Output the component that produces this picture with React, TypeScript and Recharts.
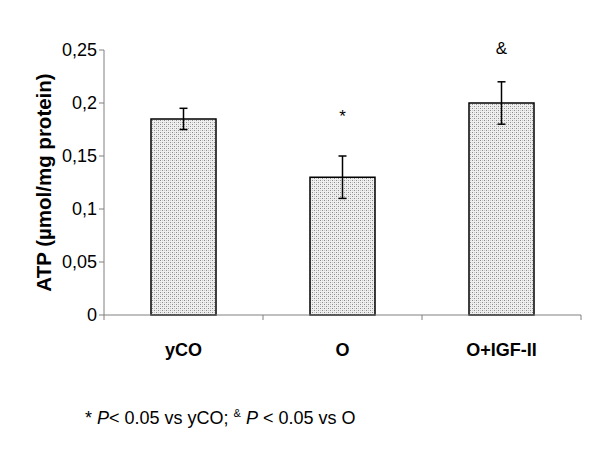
import { ComposedChart, Bar, Line, XAxis, YAxis, ErrorBar, LabelList } from "recharts";

const groups = ["yCO", "O", "O+IGF-II"];
const atp = [0.185, 0.13, 0.2];
const sem = [0.01, 0.02, 0.02];
const sigMark = ["", "*", "&"];
const sigLevel = [null, 0.182, 0.246];
const yTicks = [0, 0.05, 0.1, 0.15, 0.2, 0.25];

const data = groups.map((g, i) => ({
  group: g,
  atp: atp[i],
  sem: sem[i],
  mark: sigMark[i],
  level: sigLevel[i],
}));

const FONT = "'Liberation Sans', Arial, sans-serif";

function GroupTick(props: any) {
  const { x, y, payload, index } = props;
  const half = payload?.offset ?? 79.5;
  const axisY = y - 8;
  return (
    <g>
      {index === 0 && (
        <line x1={x - half} y1={axisY} x2={x - half} y2={axisY + 5} stroke="#808080" />
      )}
      <line x1={x + half} y1={axisY} x2={x + half} y2={axisY + 5} stroke="#808080" />
      <text
        x={x}
        y={axisY + 41}
        textAnchor="middle"
        fontFamily={FONT}
        fontSize={18}
        fontWeight="bold"
        fill="#000"
      >
        {payload.value}
      </text>
    </g>
  );
}

function SigLabel(props: any) {
  const { x, y, value } = props;
  if (!value) return null;
  return (
    <text x={x} y={y} textAnchor="middle" fontFamily={FONT} fontSize={17} fill="#000">
      {value}
    </text>
  );
}

export default function App() {
  return (
    <div style={{ position: "absolute", left: 0, top: 0, width: 600, height: 456, background: "#fff" }}>
      <ComposedChart
        width={600}
        height={456}
        data={data}
        margin={{ top: 50, right: 19, bottom: 111, left: 0 }}
      >
        <defs>
          <pattern id="dots" width="4" height="4" patternUnits="userSpaceOnUse">
            <rect width="4" height="4" fill="#efefef" />
            <rect x="0" y="0" width="1" height="1" fill="#8c8c8c" />
            <rect x="2" y="2" width="1" height="1" fill="#8c8c8c" />
            <rect x="2" y="0" width="1" height="1" fill="#c8c8c8" />
            <rect x="0" y="2" width="1" height="1" fill="#c8c8c8" />
          </pattern>
        </defs>
        <XAxis
          dataKey="group"
          height={30}
          axisLine={{ stroke: "#808080" }}
          tickLine={false}
          tick={<GroupTick />}
          interval={0}
        />
        <YAxis
          width={104}
          domain={[0, 0.25]}
          ticks={yTicks}
          tickSize={5}
          tickMargin={2}
          axisLine={{ stroke: "#808080" }}
          tickLine={{ stroke: "#808080" }}
          tick={{ fill: "#000", fontSize: 18, fontFamily: FONT }}
          tickFormatter={(v: number) => String(v).replace(".", ",")}
          label={{
            value: "ATP (µmol/mg protein)",
            angle: -90,
            position: "insideLeft",
            offset: 0,
            dx: 44,
            style: { fontFamily: FONT, fontSize: 20.5, fontWeight: "bold", fill: "#000", textAnchor: "middle" },
          }}
        />
        <Bar dataKey="atp" barSize={65} fill="url(#dots)" stroke="#000" strokeWidth={1.5} isAnimationActive={false}>
          <ErrorBar dataKey="sem" width={4} stroke="#000" strokeWidth={1.5} />
        </Bar>
        <Line
          dataKey="level"
          stroke="none"
          dot={false}
          activeDot={false}
          isAnimationActive={false}
        >
          <LabelList dataKey="mark" content={<SigLabel />} />
        </Line>
      </ComposedChart>
      <div
        style={{
          position: "absolute",
          left: 85,
          top: 407,
          fontFamily: FONT,
          fontSize: 18,
          color: "#000",
          whiteSpace: "nowrap",
        }}
      >
        * <i>P</i>&lt; 0.05 vs yCO; <sup style={{ fontSize: 11 }}>&amp;</sup> <i>P</i> &lt; 0.05 vs O
      </div>
    </div>
  );
}
